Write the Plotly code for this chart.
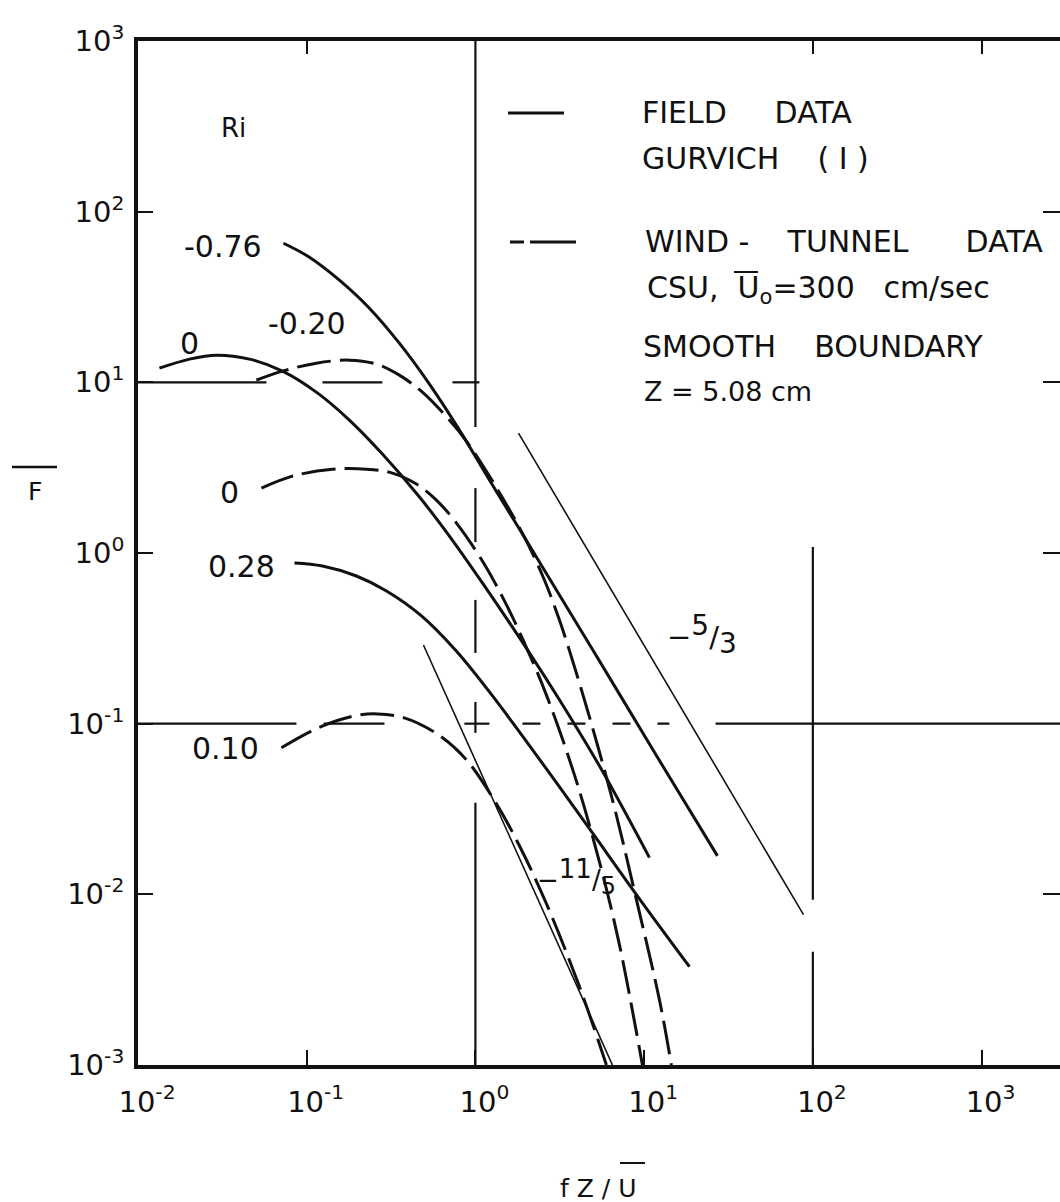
import plotly.graph_objects as go

FONT = "DejaVu Sans"
INK = "#111111"

# ---------------- data ----------------
# x = fZ/U , y = F
field_m076_x = [0.0728, 0.1038, 0.1562, 0.2353, 0.354, 0.534, 0.804, 1.211, 1.823, 3.147, 7.14, 14.1, 27.2]
field_m076_y = [65.3, 54.1, 39.7, 27.2, 16.96, 9.76, 5.25, 2.675, 1.382, 0.568, 0.149, 0.0488, 0.0168]

field_0_x = [0.0134, 0.0202, 0.0292, 0.0458, 0.0718, 0.114, 0.179, 0.281, 0.466, 0.701, 1.10, 2.09, 3.147, 5.43, 10.75]
field_0_y = [12.1, 13.67, 14.43, 13.67, 11.63, 8.76, 6.01, 3.80, 2.128, 1.257, 0.668, 0.260, 0.138, 0.0566, 0.0164]

field_028_x = [0.0846, 0.124, 0.197, 0.297, 0.479, 0.761, 1.211, 1.823, 2.94, 4.94, 9.38, 18.56]
field_028_y = [0.874, 0.839, 0.733, 0.599, 0.428, 0.270, 0.1535, 0.0895, 0.0469, 0.0229, 0.00942, 0.00377]

wt_m020_x = [0.0503, 0.0718, 0.114, 0.179, 0.259, 0.354, 0.485, 0.701, 0.884, 1.211, 1.657, 2.09, 2.564, 3.147, 4.135, 6.49, 9.00, 12.32, 14.51]
wt_m020_y = [10.30, 11.63, 12.95, 13.49, 12.79, 11.02, 8.76, 6.01, 4.53, 2.82, 1.669, 1.084, 0.695, 0.405, 0.173, 0.0358, 0.0093, 0.00241, 0.001]

wt_0_x = [0.0539, 0.0823, 0.142, 0.226, 0.322, 0.447, 0.587, 0.772, 1.10, 1.486, 1.952, 2.636, 3.863, 5.433, 7.137, 9.77]
wt_0_y = [2.40, 2.82, 3.10, 3.10, 2.94, 2.535, 2.043, 1.498, 0.898, 0.524, 0.297, 0.147, 0.0501, 0.0155, 0.00507, 0.001]

wt_010_x = [0.0708, 0.1206, 0.192, 0.2625, 0.379, 0.6035, 0.884, 1.332, 1.823, 2.636, 4.135, 5.976]
wt_010_y = [0.0722, 0.0958, 0.1111, 0.1141, 0.1081, 0.086, 0.0614, 0.0339, 0.01925, 0.00881, 0.00288, 0.001]

slope_53_x = [1.80, 88.0]
slope_53_y = [5.04, 0.0076]
slope_115_x = [0.492, 6.49]
slope_115_y = [0.289, 0.001]

x_tick_vals = [1e-2, 1e-1, 1, 10, 100, 1000]
x_tick_text = ["10<sup>-2</sup>", "10<sup>-1</sup>", "10<sup>0</sup>", "10<sup>1</sup>", "10<sup>2</sup>", "10<sup>3</sup>"]
y_tick_vals = [1e-3, 1e-2, 1e-1, 1, 10, 100, 1000]
y_tick_text = ["10<sup>-3</sup>", "10<sup>-2</sup>", "10<sup>-1</sup>", "10<sup>0</sup>", "10<sup>1</sup>", "10<sup>2</sup>", "10<sup>3</sup>"]

# ---------------- figure ----------------
W, H = 1060, 1202
ML, MR, MT, MB = 138, 0, 41, 137
PW, PH = W - ML - MR, H - MT - MB


def px(x):
    return (x - ML) / PW


def py(y):
    return (MT + PH - y) / PH


DASH = "34px,9px"
fig = go.Figure()


def curve(x, y, dash=None, width=3.0, smooth=True):
    fig.add_trace(go.Scatter(
        x=x, y=y, mode="lines",
        line=dict(color=INK, width=width, dash=dash,
                  shape="spline" if smooth else "linear", smoothing=1.0),
        showlegend=False, hoverinfo="skip"))


curve(field_m076_x, field_m076_y)
curve(field_0_x, field_0_y)
curve(field_028_x, field_028_y)
curve(wt_m020_x, wt_m020_y, dash=DASH)
curve(wt_0_x, wt_0_y, dash=DASH)
curve(wt_010_x, wt_010_y, dash=DASH)
curve(slope_53_x, slope_53_y, width=1.6, smooth=False)
curve(slope_115_x, slope_115_y, width=1.6, smooth=False)

# dummy trace to carry the top / right tick axes
fig.add_trace(go.Scatter(x=[None], y=[None], xaxis="x2", yaxis="y2",
                         showlegend=False, hoverinfo="skip"))

# ---------------- partial grid lines (as in the original) ----------------
shapes = []
GW = 2.2


def hseg(yv, x0, x1, dash=None):
    shapes.append(dict(type="line", xref="x", yref="y", x0=x0, x1=x1, y0=yv, y1=yv,
                       line=dict(color=INK, width=GW, dash=dash), layer="below"))


def vseg(xv, y0, y1, dash=None):
    shapes.append(dict(type="line", xref="x", yref="y", x0=xv, x1=xv, y0=y0, y1=y1,
                       line=dict(color=INK, width=GW, dash=dash), layer="below"))


grid_h10 = [(0.01, 0.0577), (0.124, 0.281), (0.731, 1.056)]
grid_h01 = [(0.01, 0.0869), (0.126, 0.289), (0.86, 1.21), (26.5, 5000)]
grid_v1 = [(1000, 5.47), (2.40, 1.16), (0.531, 0.2597), (0.1341, 0.0883), (0.0344, 0.001)]
grid_v100 = [(1.084, 0.0093), (0.00461, 0.001)]
for a, b in grid_h10:
    hseg(10, a, b)
for a, b in grid_h01:
    hseg(0.1, a, b)
hseg(0.1, 1.9, 14.1, dash="18px,27px")
for a, b in grid_v1:
    vseg(1, a, b)
for a, b in grid_v100:
    vseg(100, a, b)


def pline(x0, y0, x1, y1, width=2.5, dash=None):
    shapes.append(dict(type="line", xref="paper", yref="paper",
                       x0=px(x0), x1=px(x1), y0=py(y0), y1=py(y1),
                       line=dict(color=INK, width=width, dash=dash)))


# legend samples
pline(508, 113, 564, 113, width=3)
pline(510, 242, 576, 242, width=3, dash="14px,6px,46px,6px")
# overlines
pline(734, 272, 758, 272, width=2)      # U over-bar in legend
pline(12, 467, 57, 467, width=2.5)      # F over-bar (y title)
pline(620, 1163, 645, 1163, width=2)    # U over-bar (x title)

# ---------------- text ----------------
ann = []


def text(t, x, y, size=29, xanchor="center"):
    ann.append(dict(text=t, x=px(x), y=py(y), xref="paper", yref="paper",
                    xanchor=xanchor, yanchor="middle", showarrow=False,
                    font=dict(family=FONT, size=size, color=INK)))


def big(t, s):
    return "<span style='font-size:%dpx'>%s</span>" % (s, t)


NB = "\u00a0"
text("Ri", 233, 128, size=26)
text("-0.76", 223, 246, size=30)
text("-0.20", 307, 323, size=30)
text("0", 189, 343, size=30)
text("0", 229, 492, size=30)
text("0.28", 241, 566, size=30)
text("0.10", 225, 748, size=30)
text("−<sup>" + big("5", 28) + "</sup>/<sub>" + big("3", 28) + "</sub>", 702, 634, size=29)
text("−<sup>" + big("11", 26) + "</sup>/<sub>" + big("5", 24) + "</sub>", 576, 877, size=26)

text("FIELD" + NB * 5 + "DATA", 640, 112, size=30, xanchor="left")
text("GURVICH" + NB * 4 + "( I )", 640, 158, size=30, xanchor="left")
text("WIND" + NB + "-" + NB * 4 + "TUNNEL" + NB * 6 + "DATA", 643, 241, size=30, xanchor="left")
text("CSU," + NB * 2 + "U<sub>o</sub>=300" + NB * 3 + "cm/sec", 645, 289, size=30, xanchor="left")
text("SMOOTH" + NB * 4 + "BOUNDARY", 641, 346, size=30, xanchor="left")
text("Z = 5.08 cm", 642, 391, xanchor="left", size=27)

text("F", 35, 491, size=25)
text("f Z / U", 598, 1188, size=25)

axis_font = dict(family=FONT, size=29, color=INK)
fig.update_layout(
    width=W, height=H,
    margin=dict(l=ML, r=MR, t=MT, b=MB, pad=0),
    paper_bgcolor="white", plot_bgcolor="white",
    showlegend=False,
    shapes=shapes, annotations=ann,
    xaxis=dict(type="log", range=[-2, 3.465], tickvals=x_tick_vals, ticktext=x_tick_text,
               ticks="inside", ticklen=15, tickwidth=2.2, tickcolor=INK,
               showline=True, linewidth=3.5, linecolor=INK, mirror=True,
               showgrid=False, zeroline=False, tickfont=axis_font,
               ticklabelshift=9, ticklabelstandoff=8),
    yaxis=dict(type="log", range=[-3, 3], tickvals=y_tick_vals, ticktext=y_tick_text,
               ticks="inside", ticklen=15, tickwidth=2.2, tickcolor=INK,
               showline=True, linewidth=3.8, linecolor=INK, mirror=False,
               showgrid=False, zeroline=False, tickfont=axis_font,
               ticklabelstandoff=4),
    xaxis2=dict(type="log", range=[-2, 3.465], overlaying="x", side="top",
                tickvals=[0.1, 100, 1000], ticks="inside", ticklen=13, tickwidth=2.2,
                tickcolor=INK, showticklabels=False, showline=False, showgrid=False,
                zeroline=False),
    yaxis2=dict(type="log", range=[-3, 3], overlaying="y", side="right",
                tickvals=[0.01, 1, 10, 100], ticks="inside", ticklen=17, tickwidth=2.2,
                tickcolor=INK, showticklabels=False, showline=False, showgrid=False,
                zeroline=False),
)

fig.write_html("out.html")
